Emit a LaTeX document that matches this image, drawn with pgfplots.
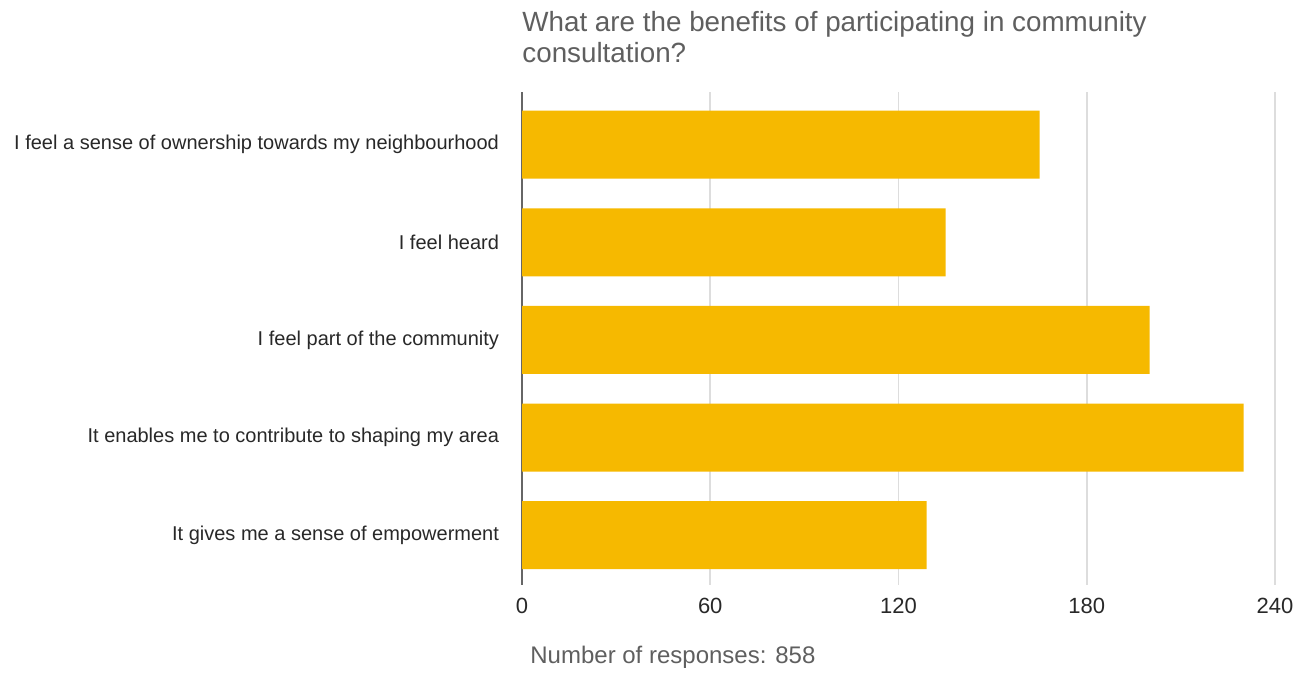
\documentclass[border=0pt]{standalone}
\usepackage{pgfplots}
\pgfplotsset{compat=1.18}
\usepackage{fontspec}
\setmainfont{Liberation Sans}
\definecolor{barcol}{RGB}{246,185,0}
\definecolor{gridcol}{RGB}{221,221,221}
\definecolor{titlecol}{RGB}{95,95,95}
\definecolor{labcol}{RGB}{40,40,40}
\begin{document}
\begin{tikzpicture}
\useasboundingbox (0,0) rectangle (652bp,336.5bp);
\begin{axis}[
  at={(261bp,44bp)}, anchor=south west,
  width=376.5bp, height=246.5bp, scale only axis,
  xbar, bar width=34bp,
  xmin=0, xmax=240,
  xtick={0,60,120,180,240},
  ymin=-0.54, ymax=4.51, y dir=reverse,
  ytick={0,1,2,3,4},
  yticklabels={I feel a sense of ownership towards my neighbourhood, I feel heard, I feel part of the community, It enables me to contribute to shaping my area, It gives me a sense of empowerment},
  axis lines*=left,
  x axis line style={draw=none},
  y axis line style={draw=black!60, line width=1bp},
  major tick length=0pt,
  xmajorgrids, grid style={gridcol, line width=0.8bp},
  /pgf/number format/assume math mode=true,
  xticklabel style={font=\fontsize{11bp}{13bp}\selectfont, text=labcol, yshift=-3bp},
  yticklabel style={font=\fontsize{10bp}{12bp}\selectfont, text=labcol, xshift=-8bp},
  axis on top=false,
]
\addplot[fill=barcol, draw=none] coordinates {(165,0) (135,1) (200,2) (230,3) (129,4)};
\end{axis}
\node[anchor=base west, text=titlecol, font=\fontsize{13.9bp}{16bp}\selectfont, inner sep=0pt] at (261bp,320.5bp) {What are the benefits of participating in community};
\node[anchor=base west, text=titlecol, font=\fontsize{13.9bp}{16bp}\selectfont, inner sep=0pt] at (261bp,305bp) {consultation?};
\node[anchor=west, text=titlecol, font=\fontsize{12bp}{14bp}\selectfont, inner sep=0pt] at (265bp,8bp) {Number of responses: 858};
\end{tikzpicture}
\end{document}
